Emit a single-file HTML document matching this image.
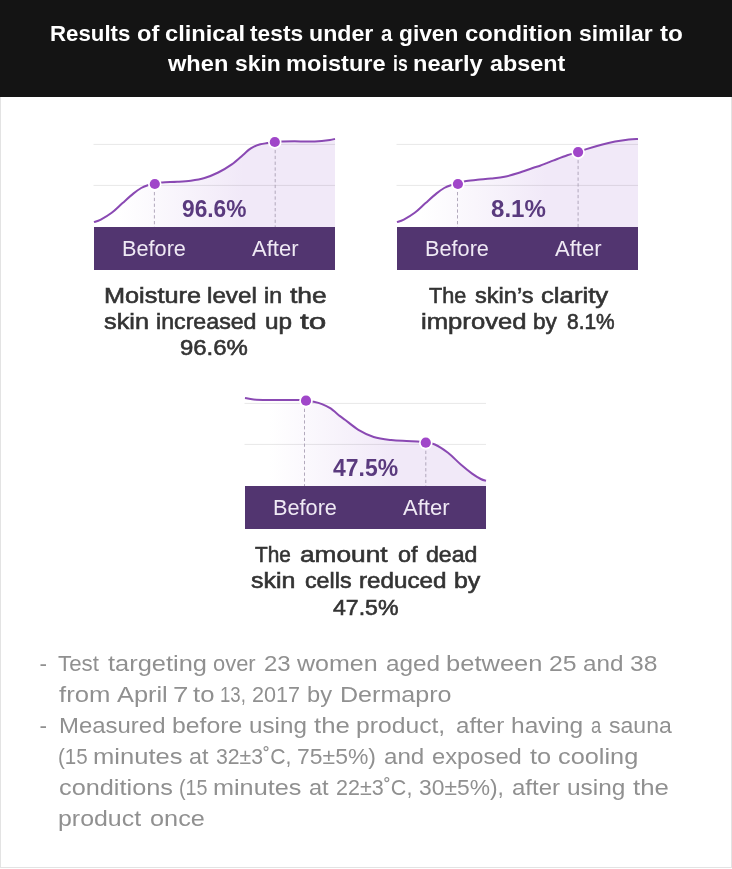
<!DOCTYPE html>
<html lang="en"><head><meta charset="utf-8"><title>Clinical test results</title>
<style>
html,body{margin:0;padding:0;background:#fff;}
body{width:732px;height:869px;position:relative;overflow:hidden;font-family:"Liberation Sans", sans-serif;}
.hd{position:absolute;left:0;top:0;width:732px;height:96.5px;background:#141414;}
.bd{position:absolute;left:0;top:96px;width:730px;height:771px;border:1px solid #e3e3e3;border-top:none;}
.t{position:absolute;left:0;margin:0;width:732px;height:26px;line-height:26px;white-space:nowrap;}
.t span{position:absolute;top:0;transform-origin:0 0;white-space:nowrap;}
.tx{position:absolute;left:0;top:0;width:732px;height:869px;will-change:transform;}
.bar{position:absolute;width:241px;height:42.8px;background:#523570;}
.ch{position:absolute;overflow:visible;}
</style></head><body>
<div class="bd"></div><div class="hd"></div>

<svg class="ch" style="left:94.1px;top:126.8px" width="241" height="104" viewBox="0 -100 241 104">
<defs><linearGradient id="g1" x1="0" x2="1" y1="0" y2="0"><stop offset="0.10" stop-color="#f1e9f8" stop-opacity="0"/><stop offset="0.62" stop-color="#f1e9f8" stop-opacity="1"/></linearGradient></defs>
<path d="M0.00,-4.90 C1.13,-5.32 3.85,-5.85 6.80,-7.40 C9.75,-8.95 14.07,-11.43 17.70,-14.20 C21.33,-16.97 24.95,-20.77 28.60,-24.00 C32.25,-27.23 36.50,-31.10 39.60,-33.60 C42.70,-36.10 44.83,-37.63 47.20,-39.00 C49.57,-40.37 51.53,-41.12 53.80,-41.80 C56.07,-42.48 58.42,-42.63 60.80,-43.10 C63.18,-43.57 64.37,-44.25 68.10,-44.60 C71.83,-44.95 78.42,-44.92 83.20,-45.20 C87.98,-45.48 92.25,-45.67 96.80,-46.30 C101.35,-46.93 105.93,-47.63 110.50,-49.00 C115.07,-50.37 119.65,-52.23 124.20,-54.50 C128.75,-56.77 133.72,-59.72 137.80,-62.60 C141.88,-65.48 145.83,-69.33 148.70,-71.80 C151.57,-74.27 153.20,-76.00 155.00,-77.40 C156.80,-78.80 157.62,-79.32 159.50,-80.20 C161.38,-81.08 164.02,-82.08 166.30,-82.70 C168.58,-83.32 170.80,-83.52 173.20,-83.90 C175.60,-84.28 178.20,-84.75 180.70,-85.00 C183.20,-85.25 184.90,-85.28 188.20,-85.40 C191.50,-85.52 196.17,-85.68 200.50,-85.70 C204.83,-85.72 209.65,-85.43 214.20,-85.50 C218.75,-85.57 224.17,-85.85 227.80,-86.10 C231.43,-86.35 233.80,-86.67 236.00,-87.00 C238.20,-87.33 240.17,-87.92 241.00,-88.10 L241,3 L0,3 Z" fill="url(#g1)"/>
<path d="M-0.5,-82.6H241M-0.5,-41.6H241" stroke="#000" stroke-opacity="0.095" stroke-width="1" fill="none"/>
<path d="M60.4,-35.0V0M181.2,-77.0V0" stroke="#aea4b8" stroke-width="0.95" stroke-dasharray="3.3 2.5" fill="none"/>
<path d="M0.00,-4.90 C1.13,-5.32 3.85,-5.85 6.80,-7.40 C9.75,-8.95 14.07,-11.43 17.70,-14.20 C21.33,-16.97 24.95,-20.77 28.60,-24.00 C32.25,-27.23 36.50,-31.10 39.60,-33.60 C42.70,-36.10 44.83,-37.63 47.20,-39.00 C49.57,-40.37 51.53,-41.12 53.80,-41.80 C56.07,-42.48 58.42,-42.63 60.80,-43.10 C63.18,-43.57 64.37,-44.25 68.10,-44.60 C71.83,-44.95 78.42,-44.92 83.20,-45.20 C87.98,-45.48 92.25,-45.67 96.80,-46.30 C101.35,-46.93 105.93,-47.63 110.50,-49.00 C115.07,-50.37 119.65,-52.23 124.20,-54.50 C128.75,-56.77 133.72,-59.72 137.80,-62.60 C141.88,-65.48 145.83,-69.33 148.70,-71.80 C151.57,-74.27 153.20,-76.00 155.00,-77.40 C156.80,-78.80 157.62,-79.32 159.50,-80.20 C161.38,-81.08 164.02,-82.08 166.30,-82.70 C168.58,-83.32 170.80,-83.52 173.20,-83.90 C175.60,-84.28 178.20,-84.75 180.70,-85.00 C183.20,-85.25 184.90,-85.28 188.20,-85.40 C191.50,-85.52 196.17,-85.68 200.50,-85.70 C204.83,-85.72 209.65,-85.43 214.20,-85.50 C218.75,-85.57 224.17,-85.85 227.80,-86.10 C231.43,-86.35 233.80,-86.67 236.00,-87.00 C238.20,-87.33 240.17,-87.92 241.00,-88.10" stroke="#8a49b3" stroke-width="2" fill="none"/>
<circle cx="60.8" cy="-43.0" r="6.8" fill="#fff"/><circle cx="180.8" cy="-85.0" r="6.8" fill="#fff"/>
<circle cx="60.8" cy="-43.0" r="5.1" fill="#a046c9"/><circle cx="180.8" cy="-85.0" r="5.1" fill="#a046c9"/>
</svg>
<svg class="ch" style="left:397px;top:126.8px" width="241" height="104" viewBox="0 -100 241 104">
<defs><linearGradient id="g2" x1="0" x2="1" y1="0" y2="0"><stop offset="0.10" stop-color="#f1e9f8" stop-opacity="0"/><stop offset="0.62" stop-color="#f1e9f8" stop-opacity="1"/></linearGradient></defs>
<path d="M0.00,-4.90 C1.13,-5.32 3.85,-5.85 6.80,-7.40 C9.75,-8.95 14.07,-11.43 17.70,-14.20 C21.33,-16.97 24.95,-20.77 28.60,-24.00 C32.25,-27.23 36.50,-31.10 39.60,-33.60 C42.70,-36.10 44.83,-37.63 47.20,-39.00 C49.57,-40.37 51.53,-41.12 53.80,-41.80 C56.07,-42.48 58.43,-42.43 60.80,-43.10 C63.17,-43.77 64.75,-45.12 68.00,-45.80 C71.25,-46.48 75.97,-46.75 80.30,-47.20 C84.63,-47.65 89.45,-47.98 94.00,-48.50 C98.55,-49.02 103.05,-49.38 107.60,-50.30 C112.15,-51.22 116.73,-52.58 121.30,-54.00 C125.87,-55.42 131.38,-57.58 135.00,-58.80 C138.62,-60.02 140.53,-60.45 143.00,-61.30 C145.47,-62.15 147.52,-63.02 149.80,-63.90 C152.08,-64.78 153.28,-65.30 156.70,-66.60 C160.12,-67.90 166.23,-70.32 170.30,-71.70 C174.37,-73.08 177.92,-73.87 181.10,-74.90 C184.28,-75.93 185.50,-76.67 189.40,-77.90 C193.30,-79.13 199.72,-81.05 204.50,-82.30 C209.28,-83.55 213.55,-84.53 218.10,-85.40 C222.65,-86.27 227.98,-87.07 231.80,-87.50 C235.62,-87.93 239.47,-87.92 241.00,-88.00 L241,3 L0,3 Z" fill="url(#g2)"/>
<path d="M-0.5,-82.6H241M-0.5,-41.6H241" stroke="#000" stroke-opacity="0.095" stroke-width="1" fill="none"/>
<path d="M60.5,-35.0V0M181.1,-66.9V0" stroke="#aea4b8" stroke-width="0.95" stroke-dasharray="3.3 2.5" fill="none"/>
<path d="M0.00,-4.90 C1.13,-5.32 3.85,-5.85 6.80,-7.40 C9.75,-8.95 14.07,-11.43 17.70,-14.20 C21.33,-16.97 24.95,-20.77 28.60,-24.00 C32.25,-27.23 36.50,-31.10 39.60,-33.60 C42.70,-36.10 44.83,-37.63 47.20,-39.00 C49.57,-40.37 51.53,-41.12 53.80,-41.80 C56.07,-42.48 58.43,-42.43 60.80,-43.10 C63.17,-43.77 64.75,-45.12 68.00,-45.80 C71.25,-46.48 75.97,-46.75 80.30,-47.20 C84.63,-47.65 89.45,-47.98 94.00,-48.50 C98.55,-49.02 103.05,-49.38 107.60,-50.30 C112.15,-51.22 116.73,-52.58 121.30,-54.00 C125.87,-55.42 131.38,-57.58 135.00,-58.80 C138.62,-60.02 140.53,-60.45 143.00,-61.30 C145.47,-62.15 147.52,-63.02 149.80,-63.90 C152.08,-64.78 153.28,-65.30 156.70,-66.60 C160.12,-67.90 166.23,-70.32 170.30,-71.70 C174.37,-73.08 177.92,-73.87 181.10,-74.90 C184.28,-75.93 185.50,-76.67 189.40,-77.90 C193.30,-79.13 199.72,-81.05 204.50,-82.30 C209.28,-83.55 213.55,-84.53 218.10,-85.40 C222.65,-86.27 227.98,-87.07 231.80,-87.50 C235.62,-87.93 239.47,-87.92 241.00,-88.00" stroke="#8a49b3" stroke-width="2" fill="none"/>
<circle cx="60.9" cy="-43.0" r="6.8" fill="#fff"/><circle cx="181.1" cy="-74.9" r="6.8" fill="#fff"/>
<circle cx="60.9" cy="-43.0" r="5.1" fill="#a046c9"/><circle cx="181.1" cy="-74.9" r="5.1" fill="#a046c9"/>
</svg>
<svg class="ch" style="left:244.9px;top:386.0px" width="241" height="104" viewBox="0 -100 241 104">
<defs><linearGradient id="g3" x1="0" x2="1" y1="0" y2="0"><stop offset="0.10" stop-color="#f1e9f8" stop-opacity="0"/><stop offset="0.62" stop-color="#f1e9f8" stop-opacity="1"/></linearGradient></defs>
<path d="M0.00,-88.00 C1.45,-87.75 4.98,-86.83 8.70,-86.50 C12.42,-86.17 17.75,-86.07 22.30,-86.00 C26.85,-85.93 30.77,-86.10 36.00,-86.10 C41.23,-86.10 49.53,-86.13 53.70,-86.00 C57.87,-85.87 58.48,-85.60 61.00,-85.30 C63.52,-85.00 66.13,-84.77 68.80,-84.20 C71.47,-83.63 74.27,-82.97 77.00,-81.90 C79.73,-80.83 82.20,-79.80 85.20,-77.80 C88.20,-75.80 92.48,-71.87 95.00,-69.90 C97.52,-67.93 97.23,-68.28 100.30,-66.00 C103.37,-63.72 108.67,-59.03 113.40,-56.20 C118.13,-53.37 123.23,-50.72 128.70,-49.00 C134.17,-47.28 140.73,-46.57 146.20,-45.90 C151.67,-45.23 157.13,-45.22 161.50,-45.00 C165.87,-44.78 169.20,-44.88 172.40,-44.60 C175.60,-44.32 177.78,-43.82 180.70,-43.30 C183.62,-42.78 186.18,-43.18 189.90,-41.50 C193.62,-39.82 198.63,-36.58 203.00,-33.20 C207.37,-29.82 212.08,-24.67 216.10,-21.20 C220.12,-17.73 223.82,-14.77 227.10,-12.40 C230.38,-10.03 233.48,-8.20 235.80,-7.00 C238.12,-5.80 240.13,-5.50 241.00,-5.20 L241,3 L0,3 Z" fill="url(#g3)"/>
<path d="M-0.5,-82.6H241M-0.5,-41.6H241" stroke="#000" stroke-opacity="0.095" stroke-width="1" fill="none"/>
<path d="M59.5,-77.3V0M180.8,-35.3V0" stroke="#aea4b8" stroke-width="0.95" stroke-dasharray="3.3 2.5" fill="none"/>
<path d="M0.00,-88.00 C1.45,-87.75 4.98,-86.83 8.70,-86.50 C12.42,-86.17 17.75,-86.07 22.30,-86.00 C26.85,-85.93 30.77,-86.10 36.00,-86.10 C41.23,-86.10 49.53,-86.13 53.70,-86.00 C57.87,-85.87 58.48,-85.60 61.00,-85.30 C63.52,-85.00 66.13,-84.77 68.80,-84.20 C71.47,-83.63 74.27,-82.97 77.00,-81.90 C79.73,-80.83 82.20,-79.80 85.20,-77.80 C88.20,-75.80 92.48,-71.87 95.00,-69.90 C97.52,-67.93 97.23,-68.28 100.30,-66.00 C103.37,-63.72 108.67,-59.03 113.40,-56.20 C118.13,-53.37 123.23,-50.72 128.70,-49.00 C134.17,-47.28 140.73,-46.57 146.20,-45.90 C151.67,-45.23 157.13,-45.22 161.50,-45.00 C165.87,-44.78 169.20,-44.88 172.40,-44.60 C175.60,-44.32 177.78,-43.82 180.70,-43.30 C183.62,-42.78 186.18,-43.18 189.90,-41.50 C193.62,-39.82 198.63,-36.58 203.00,-33.20 C207.37,-29.82 212.08,-24.67 216.10,-21.20 C220.12,-17.73 223.82,-14.77 227.10,-12.40 C230.38,-10.03 233.48,-8.20 235.80,-7.00 C238.12,-5.80 240.13,-5.50 241.00,-5.20" stroke="#8a49b3" stroke-width="2" fill="none"/>
<circle cx="61.0" cy="-85.3" r="6.8" fill="#fff"/><circle cx="180.8" cy="-43.3" r="6.8" fill="#fff"/>
<circle cx="61.0" cy="-85.3" r="5.1" fill="#a046c9"/><circle cx="180.8" cy="-43.3" r="5.1" fill="#a046c9"/>
</svg>
<div class="bar" style="left:94.1px;top:226.8px"></div>
<div class="bar" style="left:397px;top:226.8px"></div>
<div class="bar" style="left:244.9px;top:486px"></div>
<div class="tx">
<p class="t" style="top:20.90px;font-size:22.6px;font-weight:700;color:#ffffff;"><span style="left:50.42px;transform:scaleX(0.9844)">Results</span> <span style="left:136.80px;transform:scaleX(1.0458)">of</span> <span style="left:164.70px;transform:scaleX(1.0461)">clinical</span> <span style="left:249.60px;transform:scaleX(1.0081)">tests</span> <span style="left:308.68px;transform:scaleX(1.0247)">under</span> <span style="left:380.70px;transform:scaleX(0.9000)">a</span> <span style="left:399.30px;transform:scaleX(1.0067)">given</span> <span style="left:464.90px;transform:scaleX(1.0560)">condition</span> <span style="left:578.50px;transform:scaleX(1.0116)">similar</span> <span style="left:659.50px;transform:scaleX(1.0768)">to</span></p>
<p class="t" style="top:50.90px;font-size:22.6px;font-weight:700;color:#ffffff;"><span style="left:167.84px;transform:scaleX(1.0442)">when</span> <span style="left:234.80px;transform:scaleX(1.0111)">skin</span> <span style="left:286.16px;transform:scaleX(1.0442)">moisture</span> <span style="left:392.52px;transform:scaleX(0.7814)">is</span> <span style="left:413.25px;transform:scaleX(1.0454)">nearly</span> <span style="left:489.70px;transform:scaleX(1.0328)">absent</span></p>
<p class="t" style="top:195.50px;font-size:23.5px;font-weight:700;color:#5a3a7e;"><span style="left:181.60px;transform:scaleX(0.9665)">96.6%</span></p>
<p class="t" style="top:236.20px;font-size:21.4px;font-weight:400;color:#efe9f4;"><span style="left:122.09px;transform:scaleX(1.0143)">Before</span> <span style="left:252.10px;transform:scaleX(1.0300)">After</span></p>
<p class="t" style="top:195.50px;font-size:23.5px;font-weight:700;color:#5a3a7e;"><span style="left:490.50px;transform:scaleX(1.0248)">8.1%</span></p>
<p class="t" style="top:236.20px;font-size:21.4px;font-weight:400;color:#efe9f4;"><span style="left:424.99px;transform:scaleX(1.0143)">Before</span> <span style="left:555.00px;transform:scaleX(1.0300)">After</span></p>
<p class="t" style="top:454.70px;font-size:23.5px;font-weight:700;color:#5a3a7e;"><span style="left:332.80px;transform:scaleX(0.9770)">47.5%</span></p>
<p class="t" style="top:495.40px;font-size:21.4px;font-weight:400;color:#efe9f4;"><span style="left:272.89px;transform:scaleX(1.0143)">Before</span> <span style="left:402.90px;transform:scaleX(1.0300)">After</span></p>
<p class="t" style="top:283.00px;font-size:22.6px;font-weight:400;color:#333333;-webkit-text-stroke:0.6px #333333;"><span style="left:103.58px;transform:scaleX(1.1191)">Moisture</span> <span style="left:207.33px;transform:scaleX(1.0732)">level</span> <span style="left:263.88px;transform:scaleX(1.0237)">in</span> <span style="left:290.10px;transform:scaleX(1.1705)">the</span></p>
<p class="t" style="top:309.00px;font-size:22.6px;font-weight:400;color:#333333;-webkit-text-stroke:0.6px #333333;"><span style="left:103.80px;transform:scaleX(1.1183)">skin</span> <span style="left:156.17px;transform:scaleX(1.0259)">increased</span> <span style="left:264.52px;transform:scaleX(1.0778)">up</span> <span style="left:300.10px;transform:scaleX(1.3952)">to</span></p>
<p class="t" style="top:335.00px;font-size:22.6px;font-weight:400;color:#333333;-webkit-text-stroke:0.6px #333333;"><span style="left:180.24px;transform:scaleX(1.0592)">96.6%</span></p>
<p class="t" style="top:283.00px;font-size:22.6px;font-weight:400;color:#333333;-webkit-text-stroke:0.6px #333333;"><span style="left:428.60px;transform:scaleX(0.9566)">The</span> <span style="left:474.70px;transform:scaleX(1.0432)">skin’s</span> <span style="left:540.70px;transform:scaleX(1.1390)">clarity</span></p>
<p class="t" style="top:309.00px;font-size:22.6px;font-weight:400;color:#333333;-webkit-text-stroke:0.6px #333333;"><span style="left:421.06px;transform:scaleX(1.1362)">improved</span> <span style="left:533.40px;transform:scaleX(1.0015)">by</span> <span style="left:567.40px;transform:scaleX(0.9259)">8.1%</span></p>
<p class="t" style="top:542.00px;font-size:22.6px;font-weight:400;color:#333333;-webkit-text-stroke:0.6px #333333;"><span style="left:254.60px;transform:scaleX(0.9201)">The</span> <span style="left:299.80px;transform:scaleX(1.1632)">amount</span> <span style="left:397.50px;transform:scaleX(1.0375)">of</span> <span style="left:426.00px;transform:scaleX(1.0222)">dead</span></p>
<p class="t" style="top:568.00px;font-size:22.6px;font-weight:400;color:#333333;-webkit-text-stroke:0.6px #333333;"><span style="left:251.40px;transform:scaleX(1.1057)">skin</span> <span style="left:304.70px;transform:scaleX(1.0289)">cells</span> <span style="left:358.73px;transform:scaleX(1.0726)">reduced</span> <span style="left:453.70px;transform:scaleX(1.1033)">by</span></p>
<p class="t" style="top:595.00px;font-size:22.6px;font-weight:400;color:#333333;-webkit-text-stroke:0.6px #333333;"><span style="left:332.90px;transform:scaleX(1.0223)">47.5%</span></p>
<p class="t" style="top:651.00px;font-size:22.6px;font-weight:400;color:#909090;"><span style="left:39.50px;transform:scaleX(1.0000)">-</span> <span style="left:58.40px;transform:scaleX(0.9867)">Test</span> <span style="left:107.50px;transform:scaleX(1.1252)">targeting</span> <span style="left:213.40px;transform:scaleX(0.9701)">over</span> <span style="left:263.54px;transform:scaleX(1.0609)">23</span> <span style="left:297.31px;transform:scaleX(1.1083)">women</span> <span style="left:385.60px;transform:scaleX(1.0765)">aged</span> <span style="left:446.37px;transform:scaleX(1.1293)">between</span> <span style="left:548.50px;transform:scaleX(1.0991)">25</span> <span style="left:582.70px;transform:scaleX(1.0746)">and</span> <span style="left:630.10px;transform:scaleX(1.0910)">38</span></p>
<p class="t" style="top:682.00px;font-size:22.6px;font-weight:400;color:#909090;"><span style="left:58.60px;transform:scaleX(1.1360)">from</span> <span style="left:117.20px;transform:scaleX(1.1227)">April</span> <span style="left:173.07px;transform:scaleX(1.2273)">7</span> <span style="left:193.20px;transform:scaleX(1.1380)">to</span> <span style="left:220.18px;transform:scaleX(0.8239)">13,</span> <span style="left:251.64px;transform:scaleX(0.9569)">2017</span> <span style="left:306.55px;transform:scaleX(1.0481)">by</span> <span style="left:339.59px;transform:scaleX(1.1104)">Dermapro</span></p>
<p class="t" style="top:713.00px;font-size:22.6px;font-weight:400;color:#909090;"><span style="left:39.50px;transform:scaleX(1.0000)">-</span> <span style="left:58.54px;transform:scaleX(1.0596)">Measured</span> <span style="left:171.70px;transform:scaleX(1.0976)">before</span> <span style="left:248.53px;transform:scaleX(1.0715)">using</span> <span style="left:314.20px;transform:scaleX(1.1413)">the</span> <span style="left:355.81px;transform:scaleX(1.0925)">product,</span> <span style="left:455.70px;transform:scaleX(1.0660)">after</span> <span style="left:510.92px;transform:scaleX(1.0844)">having</span> <span style="left:590.70px;transform:scaleX(0.8154)">a</span> <span style="left:608.80px;transform:scaleX(1.0195)">sauna</span></p>
<p class="t" style="top:744.00px;font-size:22.6px;font-weight:400;color:#909090;"><span style="left:57.89px;transform:scaleX(0.9103)">(15</span> <span style="left:92.57px;transform:scaleX(1.1322)">minutes</span> <span style="left:188.70px;transform:scaleX(1.0324)">at</span> <span style="left:216.00px;transform:scaleX(0.9400)">32±3˚C,</span> <span style="left:296.68px;transform:scaleX(1.0159)">75±5%)</span> <span style="left:384.40px;transform:scaleX(1.0692)">and</span> <span style="left:432.20px;transform:scaleX(1.0512)">exposed</span> <span style="left:529.60px;transform:scaleX(1.1216)">to</span> <span style="left:557.80px;transform:scaleX(1.1206)">cooling</span></p>
<p class="t" style="top:775.00px;font-size:22.6px;font-weight:400;color:#909090;"><span style="left:58.60px;transform:scaleX(1.1199)">conditions</span> <span style="left:178.53px;transform:scaleX(0.8749)">(15</span> <span style="left:212.68px;transform:scaleX(1.1168)">minutes</span> <span style="left:308.80px;transform:scaleX(1.0426)">at</span> <span style="left:335.85px;transform:scaleX(0.9520)">22±3˚C,</span> <span style="left:418.70px;transform:scaleX(1.0108)">30±5%),</span> <span style="left:511.50px;transform:scaleX(1.0616)">after</span> <span style="left:566.92px;transform:scaleX(1.0811)">using</span> <span style="left:632.80px;transform:scaleX(1.1413)">the</span></p>
<p class="t" style="top:806.00px;font-size:22.6px;font-weight:400;color:#909090;"><span style="left:57.90px;transform:scaleX(1.1028)">product</span> <span style="left:150.20px;transform:scaleX(1.1192)">once</span></p>
</div>
</body></html>
